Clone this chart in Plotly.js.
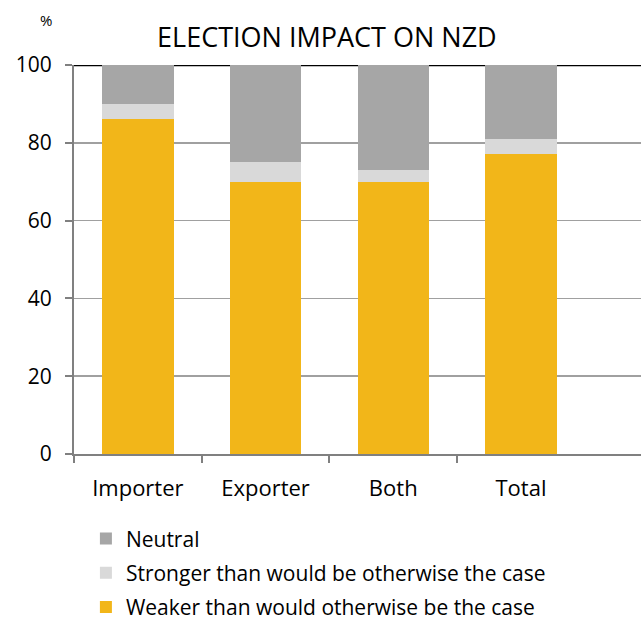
<!DOCTYPE html>
<html>
<head>
<meta charset="utf-8">
<script src="https://cdn.plot.ly/plotly-3.0.1.min.js"></script>
<style>html,body{margin:0;padding:0;background:#fff;}#chart{width:641px;height:623px;}</style>
</head>
<body>
<div id="chart"></div>
<script>
const categories = ["Importer", "Exporter", "Both", "Total"];
const weaker = [86, 70, 70, 77];
const stronger = [4, 5, 3, 4];
const neutral = [10, 25, 27, 19];
const seriesNames = ["Weaker than would otherwise be the case", "Stronger than would be otherwise the case", "Neutral"];
const yTicks = [0, 20, 40, 60, 80, 100];

const FONT = "'Open Sans', sans-serif";
const colors = ["#F2B619", "#D9D9D9", "#A6A6A6"];
const vals = [weaker, stronger, neutral];
const xIdx = categories.map((c, i) => i);
const boundaries = categories.map((c, i) => i - 0.5);
const XR = [-0.5, 3.94];

const traces = vals.map((v, i) => ({
  type: "bar",
  x: xIdx,
  y: v,
  name: seriesNames[i],
  legendgroup: "g" + i,
  legendrank: 10 - i,
  marker: {color: colors[i], line: {width: 0}},
  width: 0.56,
  hoverinfo: "y+name"
}));
traces.push({type: "scatter", x: [], y: [], xaxis: "x2", showlegend: false, hoverinfo: "skip"});

const layout = {
  width: 641, height: 623,
  margin: {l: 74, r: 0, t: 65, b: 169, autoexpand: false},
  barmode: "stack",
  paper_bgcolor: "#fff", plot_bgcolor: "#fff",
  font: {family: FONT, color: "#000"},
  title: {text: "ELECTION IMPACT ON NZD", x: 0.51, xanchor: "center", y: 0.94, yanchor: "middle", xref: "container", yref: "container", font: {size: 27, family: FONT, color: "#000"}},
  xaxis: {
    range: XR,
    tickvals: xIdx, ticktext: categories,
    ticks: "", ticklabelstandoff: 14,
    showline: true, linecolor: "#808080", linewidth: 2,
    showgrid: false, zeroline: false,
    tickfont: {size: 22, family: FONT, color: "#000"}
  },
  xaxis2: {
    range: XR, overlaying: "x", anchor: "y", side: "bottom",
    tickvals: boundaries, showticklabels: false,
    ticks: "outside", ticklen: 8, tickcolor: "#808080", tickwidth: 2,
    showline: false, showgrid: false, zeroline: false
  },
  yaxis: {
    range: [0, 100],
    tickvals: yTicks,
    ticks: "outside", ticklen: 7, tickcolor: "#808080", tickwidth: 2,
    ticklabelstandoff: 9,
    showline: true, linecolor: "#808080", linewidth: 2,
    showgrid: true, gridcolor: "#A0A0A0", gridwidth: 1.5,
    zeroline: false,
    tickfont: {size: 21, family: FONT, color: "#000"}
  },
  shapes: [{type: "line", xref: "paper", x0: 0, x1: 1, yref: "y", y0: 100, y1: 100, line: {color: "#000", width: 2.5}, layer: "below"}],
  annotations: [{text: "%", xref: "paper", yref: "paper", x: -0.05, y: 1.116, showarrow: false, font: {size: 15, family: FONT, color: "#000"}, xanchor: "center", yanchor: "middle"}],
  legend: {
    x: 0.021, xanchor: "left", y: 0.168, yanchor: "top", yref: "container",
    traceorder: "grouped",
    tracegroupgap: 4,
    font: {size: 21, family: FONT, color: "#000"},
    itemwidth: 30,
    bgcolor: "rgba(0,0,0,0)"
  },
  showlegend: true
};

Plotly.newPlot("chart", traces, layout, {displayModeBar: false, staticPlot: true});
</script>
</body>
</html>
